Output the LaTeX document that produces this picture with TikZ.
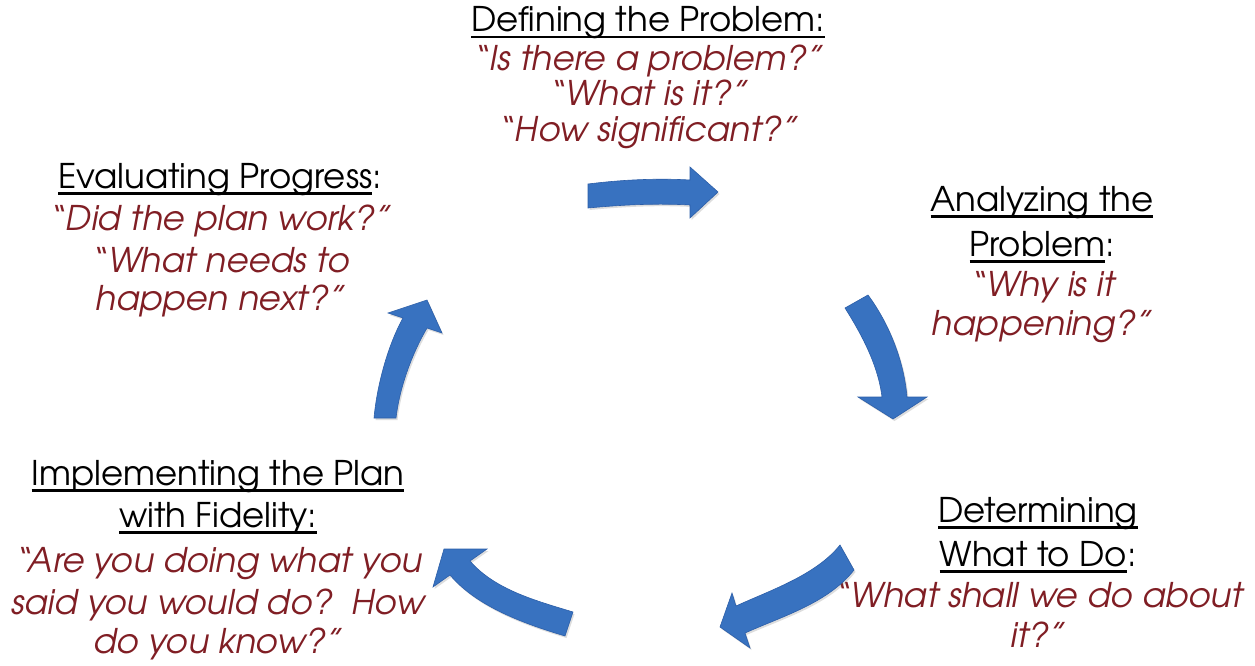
\documentclass[tikz,border=0pt]{standalone}
\usepackage{fontspec}
\setmainfont{TeX Gyre Adventor}
\usetikzlibrary{shadows}
\definecolor{arrowblue}{RGB}{56,114,192}
\definecolor{arrowedge}{RGB}{44,94,168}
\definecolor{quotered}{RGB}{128,30,36}
\newcommand\ulin[1]{\setbox0=\hbox{#1}\rlap{\rule[-6.5pt]{\wd0}{2.2pt}}\box0}
\tikzset{
  txt/.style={anchor=base, inner sep=0pt, font=\fontsize{34}{40}\selectfont},
  head/.style={txt, text=black},
  quote/.style={txt, text=quotered, font=\fontsize{34}{40}\selectfont\itshape},
  blockarrow/.style={fill=arrowblue, draw=arrowedge, line width=0.6pt, line join=miter,
    drop shadow={shadow xshift=1.5pt, shadow yshift=-2pt, opacity=0.22, fill=black!60}}
}
\begin{document}
\begin{tikzpicture}[x=1pt, y=-1pt]
\fill[white] (0,0) rectangle (1255,666);
\useasboundingbox (0,0) rectangle (1255,666);

% Top block
\node[head]  (d1) at (648,32)  {\ulin{Defining the Problem:}};
\node[quote] (d2) at (648,71)  {“Is there a problem?”};
\node[quote] (d3) at (648,106) {“What is it?”};
\node[quote] (d4) at (648,142) {“How significant?”};

% Analyzing block
\node[head]  (a1) at (1042,211) {\ulin{Analyzing the}};
\node[head]  (a2) at (1042,256) {\ulin{Problem}:};
\node[quote] (a3) at (1042,296) {“Why is it};
\node[quote] (a4) at (1042,335) {happening?”};

% Determining block
\node[head]  (t1) at (1038,522) {\ulin{Determining}};
\node[head]  (t2) at (1038,566) {\ulin{What to Do}:};
\node[quote] (t3) at (1038,607) {“What shall we do about};
\node[quote] (t4) at (1038,647) {it?”};

% Implementing block
\node[head]  (i1) at (218,485) {\ulin{Implementing the Plan}};
\node[head]  (i2) at (218,527) {\ulin{with Fidelity:}};
\node[quote] (i3) at (218,572) {“Are you doing what you};
\node[quote] (i4) at (218,614) {said you would do?\ \ How};
\node[quote] (i5) at (218,653) {do you know?”};

% Evaluating block
\node[head]  (e1) at (220,188) {\ulin{Evaluating Progress}:};
\node[quote] (e2) at (220,230) {“Did the plan work?”};
\node[quote] (e3) at (220,272) {“What needs to};
\node[quote] (e4) at (220,310) {happen next?”};

% Top arrow (right)
\path[blockarrow] (588,184) .. controls (620,180) and (655,178) .. (690,180)
  -- (690,167) -- (718,192) -- (690,218) -- (690,205)
  .. controls (655,203) and (620,205) .. (588,208) -- cycle;

% Right arrow (down)
\path[blockarrow] (845,308) .. controls (862,335) and (878,365) .. (882,397)
  -- (858,397) -- (893,419) -- (927,397) -- (907,397)
  .. controls (904,362) and (890,325) .. (868,295) -- cycle;

% Bottom-right arrow (down-left)
\path[blockarrow] (840,545) .. controls (816,575) and (771,590) .. (736,606)
  -- (732,593) -- (720,627) -- (750,648) -- (745,633)
  .. controls (783,616) and (828,603) .. (854,570) -- cycle;

% Bottom-left arrow (up-left)
\path[blockarrow] (573,612) .. controls (537,601) and (495,590) .. (470,561)
  -- (487,549) -- (444,549) -- (433,587) -- (450,575)
  .. controls (477,607) and (525,624) .. (565,636) -- cycle;

% Left arrow (up)
\path[blockarrow] (374,418) .. controls (377,385) and (388,345) .. (403,318)
  -- (388,313) -- (427,300) -- (442,333) -- (427,328)
  .. controls (413,352) and (400,385) .. (396,418) -- cycle;
\end{tikzpicture}
\end{document}
